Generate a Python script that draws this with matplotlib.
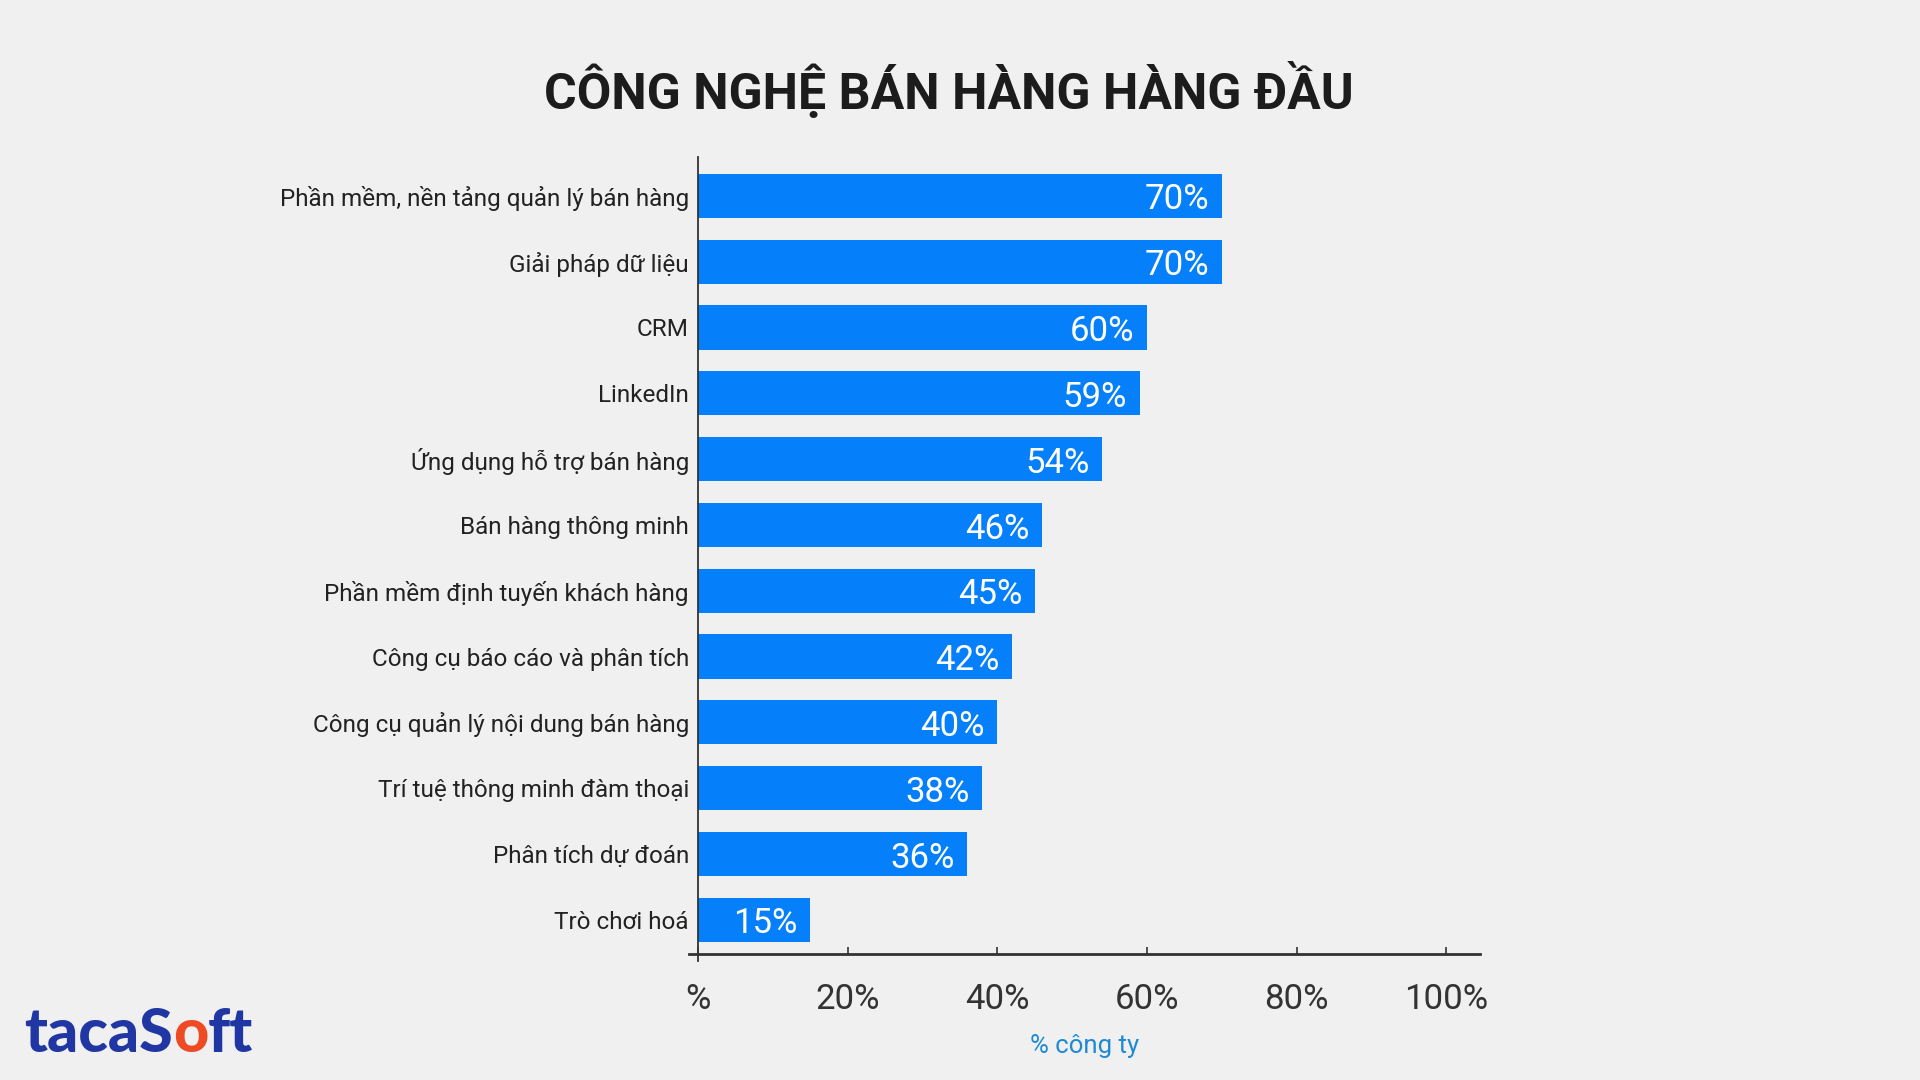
import matplotlib
matplotlib.use("Agg")
import matplotlib.pyplot as plt

categories = [
    "Phần mềm, nền tảng quản lý bán hàng",
    "Giải pháp dữ liệu",
    "CRM",
    "LinkedIn",
    "Ứng dụng hỗ trợ bán hàng",
    "Bán hàng thông minh",
    "Phần mềm định tuyến khách hàng",
    "Công cụ báo cáo và phân tích",
    "Công cụ quản lý nội dung bán hàng",
    "Trí tuệ thông minh đàm thoại",
    "Phân tích dự đoán",
    "Trò chơi hoá",
]
values = [70, 70, 60, 59, 54, 46, 45, 42, 40, 38, 36, 15]
xticks = [0, 20, 40, 60, 80, 100]
xtick_labels = ["%", "20%", "40%", "60%", "80%", "100%"]

bg = "#f0f0f0"
bar_color = "#0580fa"

plt.rcParams["font.family"] = ["Roboto", "DejaVu Sans"]

fig = plt.figure(figsize=(19.2, 10.8), dpi=100, facecolor=bg)
ax = fig.add_axes([689 / 1920, 1 - 954 / 1080, 791 / 1920, 797 / 1080])
ax.set_facecolor(bg)

ypos = list(range(len(categories)))
ax.barh(ypos, values, height=0.67, color=bar_color)

for y, v in zip(ypos, values):
    ax.annotate(f"{v}%", (v, y), xytext=(-9, -3), textcoords="offset points",
                ha="right", va="center", color="white", fontsize=25)

ax.set_xlim(-1.2, 104.5)
ax.set_ylim(11.52, -0.59)
ax.set_yticks(ypos)
ax.set_yticklabels(categories)
ax.set_xticks(xticks)
ax.set_xticklabels(xtick_labels)
ax.tick_params(axis="y", length=0, pad=6.5, labelsize=17.5, labelcolor="#222222")
ax.tick_params(axis="x", direction="in", length=5, width=1.2, color="#333333",
               pad=21, labelsize=25, labelcolor="#333333")

for s in ["top", "right"]:
    ax.spines[s].set_visible(False)
ax.spines["left"].set_position(("data", 0))
ax.spines["left"].set_bounds(-0.59, 11.62)
ax.spines["left"].set_color("#333333")
ax.spines["left"].set_linewidth(1.3)
ax.spines["bottom"].set_color("#333333")
ax.spines["bottom"].set_linewidth(2)

ax.set_xlabel("% công ty", fontsize=18.5, color="#1e8ad6", labelpad=13)

fig.text(949 / 1920, 1 - 109 / 1080, "CÔNG NGHỆ BÁN HÀNG HÀNG ĐẦU",
         ha="center", va="baseline", fontsize=36, fontweight="bold", color="#1c1c1c")

# logo text in pieces, each placed after the previous one
renderer = fig.canvas.get_renderer()
x0 = 24 / 1920
base = 1 - 1052 / 1080
for piece, col in [("tacaS", "#1f36a3"), ("o", "#ee4a24"), ("ft", "#1f36a3")]:
    t = fig.text(x0, base, piece, ha="left", va="baseline", fontsize=44,
                 family=["Lato", "DejaVu Sans"], fontweight="black", color=col)
    bb = t.get_window_extent(renderer)
    x0 = bb.x1 / fig.bbox.width

fig.savefig("out.png", dpi=100, facecolor=bg)
